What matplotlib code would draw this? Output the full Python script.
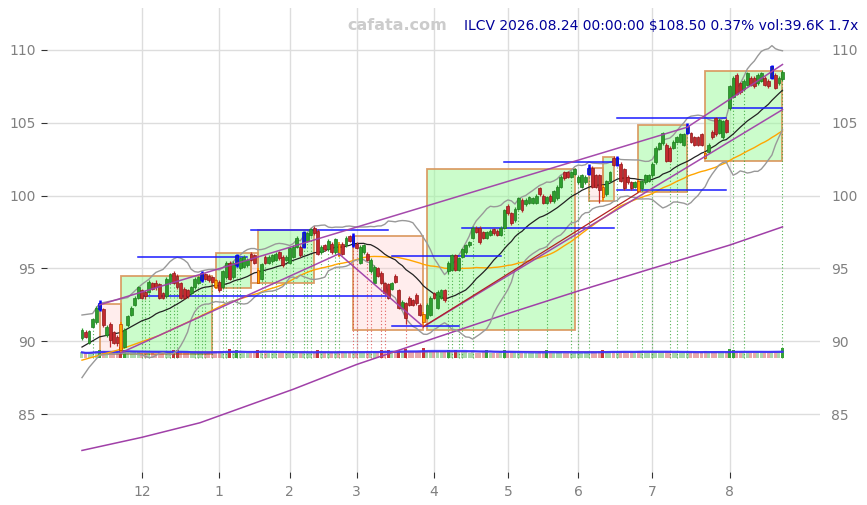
import matplotlib
matplotlib.use('Agg')
import matplotlib.pyplot as plt
import numpy as np
import pandas as pd
from matplotlib.patches import Rectangle

# ---------------- data ----------------
opens = [
    90.2, 90.6, 89.9, 91.0, 91.3, 92.2, 92.2, 90.4, 91.2, 90.6,
    90.3, 91.2, 89.6, 91.1, 91.8, 92.5, 93.0, 93.5, 93.4, 93.4,
    94.0, 94.0, 93.9, 93.3, 93.1, 94.1, 94.7, 94.5, 94.0, 93.6,
    93.5, 93.3, 93.7, 94.0, 94.2, 94.6, 94.5, 94.4, 94.2, 94.1,
    93.7, 94.4, 95.4, 94.4, 95.2, 95.0, 95.1, 95.2, 96.0, 95.9,
    94.9, 94.3, 95.8, 95.4, 95.5, 95.6, 96.1, 95.8, 95.6, 95.4,
    95.8, 96.5, 96.5, 96.5, 96.9, 97.3, 97.8, 97.6, 96.1, 96.6,
    96.3, 96.7, 96.1, 96.7, 96.7, 96.6, 97.2, 96.6, 96.7, 95.4,
    96.1, 96.0, 94.8, 94.0, 95.0, 94.7, 94.0, 93.9, 93.6, 94.5,
    93.5, 92.3, 92.6, 93.0, 92.8, 93.2, 92.5, 91.9, 91.6, 91.8,
    93.3, 92.3, 93.0, 93.5, 94.8, 94.9, 95.9, 94.9, 95.8, 96.1,
    96.6, 97.1, 97.8, 97.8, 97.5, 97.1, 97.3, 97.7, 97.6, 97.3,
    97.8, 99.3, 98.8, 98.3, 99.1, 99.7, 99.4, 99.5, 99.5, 99.5,
    100.5, 100.0, 99.5, 100.0, 99.6, 99.8, 100.6, 101.6, 101.6, 101.3,
    101.5, 100.9, 100.6, 100.9, 101.5, 101.9, 101.4, 101.4, 100.6, 100.1,
    101.0, 102.6, 102.1, 102.2, 101.8, 101.3, 100.9, 100.6, 101.0, 100.5,
    100.9, 101.0, 101.4, 102.3, 103.2, 103.6, 103.5, 103.3, 103.3, 103.7,
    103.7, 103.5, 104.3, 104.3, 104.0, 104.0, 104.2, 102.9, 103.0, 104.4,
    105.3, 104.3, 104.0, 105.2, 106.0, 106.8, 108.3, 107.7, 107.3, 107.6,
    108.1, 108.1, 107.7, 107.9, 108.1, 107.9, 108.1, 108.3, 107.7, 108.0,
]
closes = [
    90.8, 90.3, 90.7, 91.5, 92.3, 92.6, 91.1, 91.0, 90.1, 89.9,
    89.9, 89.4, 90.8, 91.7, 92.3, 93.0, 93.7, 93.0, 93.1, 94.1,
    93.6, 93.7, 93.0, 93.0, 94.3, 94.6, 94.0, 93.7, 93.0, 93.0,
    93.1, 93.7, 94.3, 94.4, 94.7, 94.3, 94.2, 94.1, 93.7, 93.5,
    94.8, 95.4, 94.3, 95.4, 95.9, 95.7, 95.8, 95.6, 95.6, 95.4,
    94.0, 95.3, 95.4, 95.8, 95.9, 96.0, 95.7, 95.2, 95.8, 96.4,
    96.5, 97.1, 95.9, 97.5, 97.4, 97.7, 97.4, 96.0, 96.5, 96.3,
    96.9, 96.1, 97.0, 95.9, 96.0, 97.1, 96.9, 97.2, 96.4, 96.5,
    96.6, 95.6, 95.6, 95.1, 94.5, 94.0, 93.3, 93.0, 94.0, 94.1,
    92.3, 92.7, 91.6, 92.5, 92.5, 92.6, 91.8, 91.3, 92.5, 93.0,
    93.0, 93.4, 93.5, 92.8, 95.4, 95.9, 94.9, 95.7, 96.3, 96.6,
    96.8, 97.8, 97.5, 96.8, 97.1, 97.5, 97.6, 97.4, 97.3, 97.8,
    99.0, 98.8, 98.1, 99.1, 99.8, 99.0, 99.7, 99.9, 99.8, 100.0,
    100.1, 99.5, 99.9, 99.6, 100.3, 100.6, 101.3, 101.2, 101.3, 101.6,
    101.8, 101.3, 101.4, 101.3, 101.9, 100.6, 100.6, 100.4, 99.9, 101.0,
    101.6, 102.1, 102.6, 101.0, 100.5, 100.9, 100.5, 100.9, 100.3, 101.0,
    101.4, 101.4, 102.2, 103.3, 103.6, 104.3, 102.4, 102.4, 103.7, 104.0,
    104.2, 104.2, 104.8, 103.7, 103.5, 103.5, 103.5, 102.6, 103.5, 104.0,
    104.2, 105.2, 105.1, 104.4, 107.5, 108.1, 107.0, 107.1, 107.9, 108.4,
    107.6, 107.5, 108.3, 108.4, 107.6, 107.5, 108.9, 107.4, 108.1, 108.5,
]
highs = [
    90.9, 90.8, 90.8, 91.6, 92.4, 92.8, 92.3, 91.1, 91.3, 90.7,
    90.4, 91.3, 90.9, 91.8, 92.4, 93.1, 93.8, 93.6, 93.5, 94.2,
    94.1, 94.2, 94.0, 93.4, 94.4, 94.7, 94.8, 94.6, 94.1, 93.7,
    93.6, 93.8, 94.4, 94.5, 94.8, 94.7, 94.6, 94.5, 94.3, 94.2,
    94.9, 95.5, 95.5, 95.5, 96.0, 95.8, 95.9, 95.7, 96.1, 96.0,
    95.0, 95.4, 95.9, 95.9, 96.0, 96.1, 96.2, 95.9, 95.9, 96.5,
    96.6, 97.2, 96.6, 97.6, 97.5, 97.8, 97.9, 97.7, 96.6, 96.7,
    97.0, 96.8, 97.1, 96.8, 96.8, 97.2, 97.3, 97.4, 96.8, 96.6,
    96.7, 96.1, 95.7, 95.2, 95.1, 94.8, 94.1, 94.0, 94.1, 94.6,
    93.6, 92.8, 92.7, 93.1, 92.9, 93.3, 92.6, 92.0, 92.6, 93.1,
    93.4, 93.5, 93.6, 93.6, 95.5, 96.0, 96.0, 95.8, 96.4, 96.7,
    96.9, 97.9, 97.9, 97.9, 97.6, 97.6, 97.7, 97.8, 97.7, 97.9,
    99.1, 99.4, 98.9, 99.2, 99.9, 99.8, 99.8, 100.0, 99.9, 100.1,
    100.6, 100.1, 100.0, 100.1, 100.4, 100.7, 101.4, 101.7, 101.7, 101.7,
    101.9, 101.4, 101.5, 101.4, 102.2, 102.0, 101.5, 101.5, 100.7, 101.1,
    101.7, 102.7, 102.7, 102.3, 101.9, 101.4, 101.0, 101.0, 101.1, 101.1,
    101.5, 101.5, 102.3, 103.4, 103.7, 104.4, 103.6, 103.4, 103.8, 104.1,
    104.3, 104.3, 105.0, 104.4, 104.1, 104.1, 104.3, 103.0, 103.6, 104.5,
    105.4, 105.3, 105.2, 105.3, 107.6, 108.2, 108.4, 107.8, 108.0, 108.5,
    108.2, 108.2, 108.4, 108.5, 108.2, 108.0, 109.0, 108.4, 108.2, 108.6,
]
lows = [
    90.1, 90.2, 89.8, 90.9, 91.2, 92.1, 91.0, 90.3, 89.6, 89.8,
    89.7, 89.2, 89.5, 91.0, 91.7, 92.4, 92.9, 92.9, 92.9, 93.3,
    93.5, 93.5, 92.9, 92.9, 93.0, 94.0, 93.9, 93.6, 92.9, 92.9,
    93.0, 93.2, 93.6, 93.9, 94.1, 94.2, 94.1, 94.0, 93.6, 93.4,
    93.6, 94.3, 94.2, 94.3, 95.1, 94.9, 95.0, 95.1, 95.5, 95.3,
    93.9, 94.2, 95.3, 95.3, 95.4, 95.5, 95.6, 95.1, 95.5, 95.3,
    95.7, 96.4, 95.8, 96.4, 96.8, 97.2, 97.3, 95.9, 96.0, 96.2,
    96.2, 96.0, 96.0, 95.8, 95.9, 96.5, 96.8, 96.5, 96.3, 95.3,
    96.0, 95.5, 94.7, 93.9, 94.4, 93.9, 93.2, 92.9, 93.5, 94.0,
    92.2, 92.2, 91.2, 92.4, 92.4, 92.5, 91.7, 91.0, 91.5, 91.7,
    92.9, 92.2, 92.9, 92.7, 94.6, 94.8, 94.8, 94.8, 95.7, 96.0,
    96.5, 97.0, 97.4, 96.7, 97.0, 97.0, 97.2, 97.3, 97.2, 97.2,
    97.7, 98.7, 98.0, 98.2, 99.0, 98.9, 99.3, 99.4, 99.4, 99.4,
    100.0, 99.4, 99.4, 99.5, 99.5, 99.7, 100.5, 101.1, 101.2, 101.2,
    101.4, 100.8, 100.5, 100.8, 101.4, 100.5, 100.5, 99.5, 99.6, 100.0,
    100.9, 102.0, 102.0, 100.9, 100.4, 100.8, 100.4, 100.5, 100.2, 100.4,
    100.8, 100.9, 101.3, 102.2, 103.1, 103.5, 102.3, 102.3, 103.2, 103.6,
    103.6, 103.4, 104.2, 103.6, 103.4, 103.4, 103.4, 102.5, 102.9, 103.9,
    104.1, 104.2, 103.9, 104.3, 105.9, 106.7, 106.9, 107.0, 107.2, 107.5,
    107.5, 107.4, 107.6, 107.8, 107.5, 107.4, 108.0, 107.3, 107.6, 107.9,
]
volumes_k = [
    22, 18, 20, 24, 26, 30, 28, 21, 27, 24, 22, 45, 30, 25, 22, 24, 26, 20, 19, 21,
    18, 17, 22, 20, 24, 21, 32, 30, 22, 19, 18, 20, 21, 23, 25, 19, 22, 24, 28, 26,
    25, 27, 34, 24, 30, 22, 21, 20, 19, 23, 31, 26, 18, 19, 20, 22, 21, 24, 19, 23,
    22, 25, 24, 28, 21, 20, 19, 30, 24, 18, 20, 22, 23, 27, 25, 19, 18, 26, 24, 22,
    23, 28, 24, 26, 27, 30, 28, 32, 22, 24, 33, 23, 35, 26, 22, 25, 29, 38, 27, 28,
    24, 26, 23, 25, 31, 28, 30, 27, 24, 22, 21, 26, 20, 19, 22, 32, 20, 18, 19, 24,
    30, 22, 24, 23, 25, 21, 18, 19, 20, 21, 24, 22, 33, 19, 21, 23, 26, 20, 18, 19,
    20, 22, 21, 25, 27, 26, 24, 28, 30, 25, 22, 26, 28, 27, 25, 21, 22, 20, 26, 24,
    21, 20, 25, 28, 22, 23, 27, 24, 20, 19, 21, 22, 26, 24, 22, 21, 23, 27, 22, 24,
    25, 23, 22, 24, 35, 30, 28, 24, 22, 23, 21, 20, 22, 19, 21, 20, 25, 24, 23, 39.6,
]
holidays = ['2025-11-27', '2025-12-25', '2026-01-01', '2026-01-19', '2026-02-16',
            '2026-04-03', '2026-05-25', '2026-06-19', '2026-07-03']

pivot_high = [5, 34, 44, 63, 77, 144, 152, 172, 196]
pivot_low = [11, 38, 50, 73, 97, 148, 158, 177]

box_start = [5, 11, 38, 48, 50, 77, 98, 144, 148, 158, 177]
box_end = [11, 37, 48, 50, 66, 97, 140, 148, 151, 172, 199]
box_top = [92.55, 94.5, 96.05, 96.05, 97.65, 97.2, 101.8, 101.9, 102.65, 104.85, 108.55]
box_bot = [89.15, 89.15, 93.65, 94.0, 94.0, 90.8, 90.75, 99.65, 99.65, 100.25, 102.4]
box_up = [False, True, True, False, True, False, True, False, True, True, True]

lvl_start = [16, 16, 48, 88, 88, 108, 120, 152, 152, 184]
lvl_end = [47, 87, 87, 119, 107, 151, 151, 183, 183, 199]
lvl_price = [95.78, 93.1, 97.64, 95.85, 91.04, 97.78, 102.3, 100.38, 105.33, 106.0]

trend_i0 = [5, 172, 11, 73, 97]
trend_p0 = [92.5, 104.7, 89.2, 96.0, 91.0]
trend_i1 = [172, 199, 73, 97, 199]
trend_p1 = [104.7, 109.0, 96.0, 91.0, 105.9]
red_i = [97, 158]
red_p = [91.0, 100.2]

long_idx = [0, 17, 33.5, 60, 78, 100, 121, 141, 162, 184, 199]
long_val = [82.5, 83.4, 84.4, 86.7, 88.4, 90.2, 91.9, 93.45, 95.0, 96.6, 97.85]

sma20_head_idx = [0, 5, 11, 17]
sma20_head_val = [89.6, 90.3, 90.6, 91.4]
bbu_head_idx = [0, 3, 5, 13, 17]
bbu_head_val = [91.8, 91.9, 92.6, 93.0, 93.9]
bbl_head_idx = [0, 2, 5, 13, 17]
bbl_head_val = [87.5, 88.2, 89.05, 89.2, 89.05]
sma50_head_idx = [0, 11, 22, 33.5, 41]
sma50_head_val = [88.7, 89.45, 90.4, 91.7, 92.6]

sig_up = [3, 17, 18, 19, 24, 25, 26, 27, 32, 33, 34, 35, 37, 40, 41, 43, 44, 45,
          51, 52, 54, 55, 58, 60, 63, 64, 65, 68, 70, 72, 73, 104, 105, 107, 108,
          111, 120, 124, 132, 139, 141, 144, 152, 159, 162, 167, 169, 172, 185, 188, 199]
sig_dn = [77, 78, 81, 82, 85, 86, 92]

title = "ILCV 2026.08.24 00:00:00 $108.50 0.37% vol:39.6K 1.7x"

# ---------------- derived ----------------
dates = pd.bdate_range('2025-11-05', '2026-08-24')
dates = dates[~dates.isin(pd.to_datetime(holidays))]
n = len(closes)
idx = np.arange(n)
o = np.array(opens); c = np.array(closes); h = np.array(highs); l = np.array(lows)
vol = np.array(volumes_k)
cs = pd.Series(c)
sma20 = cs.rolling(20).mean()
sd20 = cs.rolling(20).std(ddof=0)
bbu = sma20 + 2 * sd20
bbl = sma20 - 2 * sd20
sma50 = cs.rolling(50).mean()

month_pos, month_lab = [], []
for i in range(1, n):
    if dates[i].month != dates[i - 1].month:
        month_pos.append(i)
        month_lab.append(str(dates[i].month))

GREEN = '#2e9e2e'
RED = '#c42a2f'

fig = plt.figure(figsize=(8.67, 5.05), dpi=100)
ax = fig.add_axes([47 / 867, 1 - 472 / 505, 773 / 867, 464 / 505])
ax.set_xlim(-9.94, 209.66)
ax.set_ylim(81.02, 112.88)
for s in ax.spines.values():
    s.set_visible(False)
ax.grid(True, color='#dddddd', lw=1.0)
ax.set_axisbelow(True)

# boxes
for s0, s1, t, b, u in zip(box_start, box_end, box_top, box_bot, box_up):
    fc = '#98fb98' if u else '#ffcccc'
    al = 0.5 if u else 0.35
    ax.add_patch(Rectangle((s0, b), s1 - s0, t - b, facecolor=fc, alpha=al,
                           edgecolor='none', zorder=1))
    ax.add_patch(Rectangle((s0, b), s1 - s0, t - b, facecolor='none',
                           edgecolor='#d9955a', lw=1.3, alpha=0.9, zorder=1.5))

# volume
vbase = 88.86
vscale = 0.017
up_bar = c >= o
for i in range(n):
    col = GREEN if up_bar[i] else RED
    al = 0.95 if vol[i] >= 30 else 0.4
    ax.bar(i, vol[i] * vscale, bottom=vbase, width=0.85, color=col, alpha=al, zorder=2)
vs = pd.Series(vol)
ax.plot(idx, vbase + vs.rolling(50, min_periods=1).mean() * vscale, color='#a040b0', lw=1.0, zorder=2.5)
ax.plot(idx, vbase + vs.rolling(20, min_periods=1).mean() * vscale, color='#3030ff', lw=1.6, alpha=0.85, zorder=2.6)

# signal dotted verticals
for i in sig_up:
    ax.plot([i, i], [vbase, l[i]], color='#2ca02c', lw=0.8, ls=(0, (1, 2)), alpha=0.8, zorder=2)
for i in sig_dn:
    ax.plot([i, i], [vbase, l[i]], color='#d62728', lw=0.8, ls=(0, (1, 2)), alpha=0.7, zorder=2)

# indicators
ax.plot(long_idx, long_val, color='#a040a8', lw=1.1, zorder=3)
ax.plot(list(sma50_head_idx) + list(idx[49:]), list(sma50_head_val) + list(sma50[49:]),
        color='#ffa500', lw=1.0, zorder=3)
ax.plot(list(bbu_head_idx) + list(idx[19:]), list(bbu_head_val) + list(bbu[19:]),
        color='#999999', lw=1.0, zorder=3)
ax.plot(list(bbl_head_idx) + list(idx[19:]), list(bbl_head_val) + list(bbl[19:]),
        color='#999999', lw=1.0, zorder=3)
ax.plot(list(sma20_head_idx) + list(idx[19:]), list(sma20_head_val) + list(sma20[19:]),
        color='#222222', lw=0.9, zorder=3)

# levels
for s0, s1, p in zip(lvl_start, lvl_end, lvl_price):
    ax.plot([s0, s1], [p, p], color='#1a1aff', lw=1.1, zorder=3.5)

# candles
wick_c, face_c, edge_c, wick_w = [], [], [], []
for i in range(n):
    if i in pivot_high:
        wick_c.append('#0000ff'); face_c.append('#1a2aa0'); edge_c.append('#0000ff'); wick_w.append(1.8)
    elif i in pivot_low:
        wick_c.append('#ff8c00'); face_c.append('#ffa500'); edge_c.append('#c04000'); wick_w.append(1.2)
    elif c[i] >= o[i]:
        wick_c.append(GREEN); face_c.append(GREEN); edge_c.append('#1f7a1f'); wick_w.append(0.9)
    else:
        wick_c.append(RED); face_c.append(RED); edge_c.append('#8b1a1a'); wick_w.append(0.9)
ax.vlines(idx, l, h, colors=wick_c, linewidths=wick_w, zorder=4)
ax.bar(idx, np.maximum(np.abs(c - o), 0.04), bottom=np.minimum(o, c), width=0.82,
       color=face_c, edgecolor=edge_c, linewidth=0.5, zorder=4.5)

# trend lines
for a0, p0, a1, p1 in zip(trend_i0, trend_p0, trend_i1, trend_p1):
    ax.plot([a0, a1], [p0, p1], color='#a040a8', lw=1.1, alpha=0.95, zorder=5)
ax.plot(red_i, red_p, color='#b22222', lw=0.9, zorder=5)

# ticks
ax.set_yticks([85, 90, 95, 100, 105, 110])
ax.set_xticks(month_pos)
ax.set_xticklabels(month_lab)
ax.tick_params(axis='y', left=True, right=True, labelleft=True, labelright=True,
               labelsize=10, labelcolor='#808080', length=4, color='#333333', pad=4)
ax.tick_params(axis='x', labelsize=10, labelcolor='#808080', length=4, color='#333333', pad=5)
for t in ax.yaxis.get_major_ticks():
    t.tick2line.set_visible(False)

fig.text(397 / 867, 1 - 26 / 505, 'cafata.com', ha='center', va='center',
         color='#cccccc', fontsize=11.5, fontweight='bold')
fig.text(858 / 867, 1 - 26 / 505, title, ha='right', va='center',
         color='#000099', fontsize=10)

fig.savefig('out.png', dpi=100)
